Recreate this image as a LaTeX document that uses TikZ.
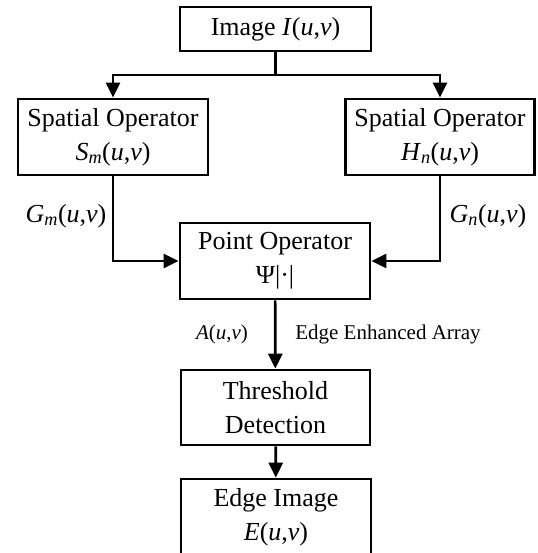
\documentclass[tikz,border=0pt]{standalone}
\usepackage{fontspec}
\setmainfont{Liberation Serif}
\usetikzlibrary{arrows.meta}
\tikzset{
  box/.style={draw, line width=2.7pt, minimum width=190pt, minimum height=76pt, inner sep=0pt, align=center, font=\fontsize{26}{34}\selectfont},
  lbl/.style={font=\fontsize{26}{34}\selectfont, inner sep=0pt},
  slbl/.style={font=\fontsize{21}{25}\selectfont, inner sep=0pt},
  conn/.style={line width=2.7pt, -{Triangle[length=15pt,width=14pt]}},
  plainline/.style={line width=2.7pt}
}
\begin{document}
\begin{tikzpicture}[x=1pt,y=-1pt]
\useasboundingbox (0,0) rectangle (537,553);
\node[box, minimum height=44pt, minimum width=191pt] (img) at (275.5,29) {Image \textit{I}(\textit{u},\textit{v})};
\node[box] (sm) at (113,137) {Spatial Operator\\\textit{S}\textsubscript{\textit{m}}(\textit{u},\textit{v})};
\node[box, minimum width=189pt] (hn) at (440,137) {Spatial Operator\\\textit{H}\textsubscript{\textit{n}}(\textit{u},\textit{v})};
\node[box] (po) at (275,261) {Point Operator\\Ψ|·|};
\node[box, minimum width=189pt, minimum height=75pt] (th) at (275.5,407.5) {Threshold\\Detection};
\node[box] (ed) at (276,517) {Edge Image\\\textit{E}(\textit{u},\textit{v})};
\coordinate (j) at (275.5,75);
\node[lbl] (gm) at (66,216) {\textit{G}\textsubscript{\textit{m}}(\textit{u},\textit{v})};
\node[lbl] (gn) at (488,216) {\textit{G}\textsubscript{\textit{n}}(\textit{u},\textit{v})};
\node[slbl] (a) at (222,334) {\textit{A}(\textit{u},\textit{v})};
\node[slbl] (eea) at (388,334) {Edge Enhanced Array};
\draw[plainline] (img.south) -- (j);
\draw[conn] (j) -| (sm.north);
\draw[conn] (j) -| (hn.north);
\draw[conn] (sm.south) |- (po.west);
\draw[conn] (hn.south) |- (po.east);
\draw[conn] (po) -- (th);
\draw[conn] (th) -- (ed);
\end{tikzpicture}
\end{document}
